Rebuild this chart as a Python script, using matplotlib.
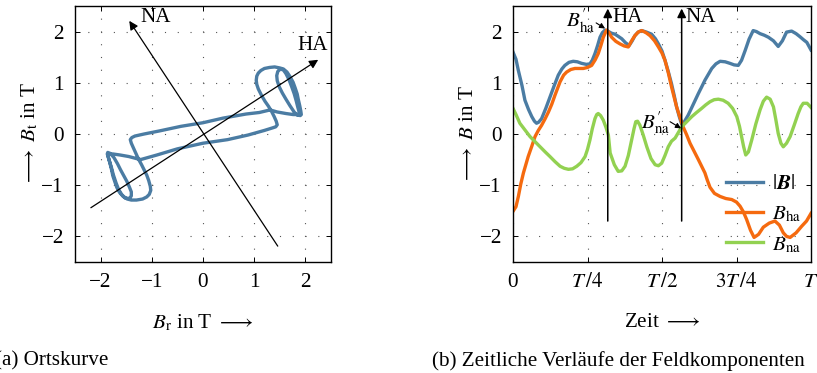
import numpy as np
import matplotlib
matplotlib.use("Agg")
from matplotlib import pyplot as plt
from matplotlib.lines import Line2D

plt.rcParams["font.family"] = ["Liberation Serif", "DejaVu Serif"]
plt.rcParams["mathtext.fontset"] = "stix"
plt.rcParams["font.size"] = 15.2

# --- (a) Ortskurve: B_r / B_t, in drawing order
br = [-1.22, -0.90, -0.50, 0.00, 0.48, 0.88, 1.20, 1.36, 1.42, 1.45, 1.43, 1.39, 1.34,
      1.28, 1.21, 1.14, 1.08, 1.05, 1.04, 1.05, 1.08, 1.13, 1.20, 1.30, 1.40, 1.50, 1.57,
      1.64, 1.70, 1.76, 1.80, 1.84, 1.86, 1.89, 1.91, 1.92, 1.90, 1.84,
      1.78, 1.70, 1.62, 1.55, 1.49, 1.45, 1.44, 1.46, 1.51, 1.57, 1.62, 1.68, 1.73, 1.78,
      1.82, 1.85, 1.88, 1.87,
      1.76, 1.62, 1.45, 1.31,
      1.10, 0.84, 0.39, 0.00, -0.43, -0.85, -1.15, -1.33, -1.39, -1.42, -1.40, -1.36, -1.31,
      -1.26, -1.20, -1.15, -1.10, -1.06, -1.03, -1.02, -1.05, -1.10, -1.18, -1.30, -1.40,
      -1.48, -1.56, -1.63, -1.68, -1.72, -1.76, -1.79, -1.82, -1.85, -1.87, -1.86, -1.81,
      -1.74, -1.67, -1.61, -1.55, -1.49, -1.44, -1.40, -1.40, -1.44, -1.52, -1.59, -1.65,
      -1.70, -1.75, -1.79, -1.83, -1.86, -1.85,
      -1.76, -1.62, -1.45, -1.30, -1.22]
bt = [-0.50, -0.41, -0.29, -0.18, -0.11, -0.02, 0.07, 0.12, 0.14, 0.18, 0.25, 0.34, 0.44,
      0.54, 0.64, 0.76, 0.88, 0.97, 1.05, 1.13, 1.19, 1.24, 1.28, 1.30, 1.31, 1.29, 1.27,
      1.21, 1.12, 1.01, 0.90, 0.78, 0.68, 0.55, 0.45, 0.38, 0.36, 0.37,
      0.43, 0.55, 0.68, 0.80, 0.92, 1.04, 1.14, 1.22, 1.27, 1.25, 1.18, 1.06, 0.93, 0.79,
      0.65, 0.53, 0.42, 0.38,
      0.38, 0.40, 0.43, 0.47,
      0.42, 0.39, 0.31, 0.22, 0.15, 0.06, 0.00, -0.04, -0.07, -0.11, -0.18, -0.27, -0.38,
      -0.49, -0.60, -0.70, -0.80, -0.91, -1.02, -1.10, -1.18, -1.23, -1.27, -1.29, -1.29,
      -1.27, -1.22, -1.14, -1.05, -0.94, -0.82, -0.68, -0.56, -0.45, -0.39, -0.36, -0.38,
      -0.46, -0.58, -0.70, -0.81, -0.92, -1.03, -1.13, -1.21, -1.26, -1.25, -1.18, -1.08,
      -0.95, -0.80, -0.65, -0.52, -0.42, -0.39,
      -0.39, -0.41, -0.44, -0.48, -0.50]

# --- (b) time traces (t in units of T)
t_abs = [0.000, 0.010, 0.018, 0.030, 0.040, 0.052, 0.063, 0.072, 0.079, 0.086, 0.096, 0.110,
         0.124, 0.138, 0.152, 0.164, 0.174, 0.188, 0.202, 0.216, 0.230, 0.246, 0.258, 0.266,
         0.275, 0.284, 0.292, 0.300, 0.309, 0.318, 0.330, 0.342, 0.355, 0.365, 0.378, 0.390,
         0.400, 0.409, 0.420, 0.432, 0.448, 0.465, 0.478, 0.488, 0.500, 0.510, 0.521, 0.532,
         0.541, 0.549, 0.558, 0.566, 0.576, 0.588, 0.605, 0.622, 0.634, 0.644, 0.656, 0.667,
         0.681, 0.695, 0.712, 0.728, 0.742, 0.756, 0.767, 0.779, 0.792, 0.806, 0.817, 0.829,
         0.843, 0.857, 0.874, 0.890, 0.904, 0.918, 0.935, 0.950, 0.963, 0.975, 0.986, 1.000]
b_abs = [1.60, 1.46, 1.24, 0.95, 0.66, 0.48, 0.34, 0.25, 0.21, 0.23, 0.30, 0.50,
         0.72, 0.94, 1.15, 1.27, 1.34, 1.40, 1.42, 1.41, 1.38, 1.36, 1.37, 1.44,
         1.57, 1.73, 1.89, 1.98, 2.03, 2.01, 1.97, 1.95, 1.90, 1.86, 1.78, 1.73,
         1.82, 1.92, 1.99, 2.02, 1.99, 1.95, 1.86, 1.76, 1.62, 1.44, 1.22, 0.98,
         0.75, 0.53, 0.34, 0.19, 0.25, 0.37, 0.58, 0.79, 0.93, 1.05, 1.17, 1.28,
         1.37, 1.42, 1.41, 1.38, 1.35, 1.34, 1.44, 1.63, 1.85, 2.02, 2.00, 1.96,
         1.93, 1.89, 1.82, 1.71, 1.82, 1.99, 2.01, 1.96, 1.90, 1.84, 1.79, 1.64]

t_ha = [0.000, 0.010, 0.018, 0.026, 0.035, 0.051, 0.063, 0.074, 0.085, 0.096, 0.108, 0.119,
        0.130, 0.141, 0.158, 0.170, 0.180, 0.194, 0.208, 0.222, 0.236, 0.250, 0.264, 0.276,
        0.286, 0.295, 0.303, 0.314, 0.322, 0.331, 0.345, 0.359, 0.373, 0.387, 0.398, 0.409,
        0.420, 0.432, 0.446, 0.460, 0.475, 0.488, 0.500, 0.510, 0.521, 0.532, 0.549, 0.560,
        0.571, 0.583, 0.594, 0.608, 0.622, 0.633, 0.644, 0.652, 0.661, 0.676, 0.695, 0.714,
        0.734, 0.750, 0.762, 0.773, 0.784, 0.797, 0.809, 0.824, 0.840, 0.860, 0.879, 0.894,
        0.907, 0.918, 0.930, 0.950, 0.969, 0.985, 1.000]
b_ha = [-1.51, -1.42, -1.22, -0.98, -0.76, -0.44, -0.24, -0.05, 0.07, 0.17, 0.30, 0.43,
        0.58, 0.76, 1.02, 1.15, 1.21, 1.26, 1.28, 1.28, 1.28, 1.30, 1.34, 1.45,
        1.57, 1.73, 1.89, 2.03, 1.98, 1.89, 1.81, 1.76, 1.72, 1.70, 1.82, 1.92,
        1.99, 2.02, 1.98, 1.92, 1.82, 1.70, 1.58, 1.44, 1.20, 0.92, 0.53, 0.33,
        0.14, -0.02, -0.18, -0.34, -0.50, -0.63, -0.76, -0.90, -1.04, -1.16, -1.22, -1.26,
        -1.28, -1.33, -1.41, -1.52, -1.67, -1.88, -2.02, -1.96, -1.82, -1.74, -1.70, -1.78,
        -1.93, -2.00, -2.02, -1.93, -1.80, -1.70, -1.55]

t_na = [0.000, 0.010, 0.023, 0.040, 0.057, 0.074, 0.091, 0.108, 0.124, 0.141, 0.158, 0.172,
        0.186, 0.200, 0.214, 0.228, 0.242, 0.250, 0.258, 0.266, 0.275, 0.281, 0.286, 0.294,
        0.303, 0.312, 0.320, 0.326, 0.340, 0.353, 0.365, 0.376, 0.387, 0.398, 0.406, 0.412,
        0.418, 0.426, 0.437, 0.449, 0.463, 0.477, 0.488, 0.499, 0.510, 0.521, 0.532, 0.544,
        0.555, 0.566, 0.583, 0.600, 0.616, 0.633, 0.647, 0.661, 0.675, 0.689, 0.705, 0.722,
        0.737, 0.751, 0.760, 0.767, 0.774, 0.781, 0.790, 0.801, 0.815, 0.829, 0.840, 0.851,
        0.863, 0.874, 0.882, 0.890, 0.899, 0.907, 0.918, 0.930, 0.944, 0.957, 0.966, 0.974,
        0.987, 1.000]
b_na = [0.50, 0.38, 0.21, 0.08, -0.05, -0.15, -0.25, -0.35, -0.44, -0.54, -0.63, -0.67,
        -0.69, -0.68, -0.63, -0.56, -0.44, -0.30, -0.12, 0.10, 0.30, 0.38, 0.40, 0.36,
        0.27, 0.13, -0.02, -0.37, -0.60, -0.73, -0.72, -0.63, -0.42, -0.12, 0.10, 0.24,
        0.25, 0.17, -0.02, -0.25, -0.48, -0.60, -0.62, -0.57, -0.42, -0.25, -0.14, -0.08,
        0.03, 0.14, 0.24, 0.34, 0.42, 0.50, 0.57, 0.63, 0.67, 0.68, 0.66, 0.60,
        0.50, 0.34, 0.15, -0.05, -0.25, -0.41, -0.35, -0.12, 0.20, 0.47, 0.64, 0.72,
        0.68, 0.53, 0.28, 0.01, -0.18, -0.25, -0.18, -0.05, 0.18, 0.40, 0.53, 0.60,
        0.60, 0.52]

x_ticks = [0, 0.25, 0.5, 0.75, 1]
x_ticklabels = ["0", r"$T\,/4$", r"$T\,/2$", r"$3T\,/4$", "$T$"]
b_ticks = [-2, -1, 0, 1, 2]

c_abs = "#4b7ca3"
c_ha = "#f56a0f"
c_na = "#92d151"
gridstyle = dict(color="#555555", linestyle=(0, (1, 10.5)), linewidth=0.8)


def style_axes(ax):
    ax.grid(True, **gridstyle)
    ax.tick_params(direction="in", top=True, right=True, length=3.5, width=0.7, pad=8)
    for s in ax.spines.values():
        s.set_linewidth(1.0)


W, H = 817, 373
fig = plt.figure(figsize=(W / 100, H / 100), dpi=100)
ax1 = fig.add_axes([75 / W, 111 / H, 256 / W, 256 / H])
ax2 = fig.add_axes([513 / W, 111 / H, 298 / W, 256 / H])

# (a)
ax1.plot(br, bt, color=c_abs, lw=2.4, solid_joinstyle="round", solid_capstyle="round")
arr = dict(arrowstyle="-|>", color="black", lw=0.9, mutation_scale=13, shrinkA=0, shrinkB=0)
ax1.annotate("", xy=(2.25, 1.45), xytext=(-2.19, -1.44), arrowprops=arr)
ax1.annotate("", xy=(-1.44, 2.21), xytext=(1.46, -2.19), arrowprops=arr)
ax1.text(-1.22, 2.27, "NA", ha="left", va="center")
ax1.text(2.44, 1.73, "HA", ha="right", va="center")
ax1.set_xlim(-2.5, 2.5)
ax1.set_ylim(-2.5, 2.5)
ax1.set_xticks(b_ticks)
ax1.set_yticks(b_ticks)
style_axes(ax1)
ax1.set_xlabel(r"$B_\mathrm{r}$ in T $\longrightarrow$", labelpad=15)
ax1.set_ylabel(r"$\longrightarrow$ $B_\mathrm{t}$ in T", labelpad=1)

# (b)
ax2.plot(t_abs, b_abs, color=c_abs, lw=2.4, solid_joinstyle="round")
ax2.plot(t_ha, b_ha, color=c_ha, lw=2.4, solid_joinstyle="round")
ax2.plot(t_na, b_na, color=c_na, lw=2.4, solid_joinstyle="round")
varr = dict(arrowstyle="-|>", color="black", lw=1.1, mutation_scale=13, shrinkA=0, shrinkB=0)
ax2.annotate("", xy=(0.318, 2.45), xytext=(0.318, -1.7), arrowprops=varr)
ax2.annotate("", xy=(0.566, 2.45), xytext=(0.566, -1.7), arrowprops=varr)
ax2.text(0.332, 2.27, "HA", ha="left", va="center")
ax2.text(0.58, 2.27, "NA", ha="left", va="center")
sarr = dict(arrowstyle="-|>", color="black", lw=0.8, mutation_scale=8, shrinkA=0, shrinkB=0)
ax2.annotate("", xy=(0.309, 2.06), xytext=(0.279, 2.17), arrowprops=sarr)
ax2.text(0.225, 2.2, r"$B_{\mathrm{ha}}^{\prime}$", ha="center", va="center")
ax2.annotate("", xy=(0.564, 0.11), xytext=(0.527, 0.24), arrowprops=sarr)
ax2.text(0.478, 0.22, r"$B_{\mathrm{na}}^{\prime}$", ha="center", va="center")
ax2.set_xlim(0, 1)
ax2.set_ylim(-2.5, 2.5)
ax2.set_xticks(x_ticks)
ax2.set_xticklabels(x_ticklabels)
ax2.set_yticks(b_ticks)
style_axes(ax2)
ax2.set_xlabel(r"Zeit $\longrightarrow$", labelpad=15)
ax2.set_ylabel(r"$\longrightarrow$ $B$ in T", labelpad=1)
handles = [Line2D([], [], color=c, lw=2.4) for c in (c_abs, c_ha, c_na)]
ax2.legend(handles, [r"$|\boldsymbol{B}|$", r"$B_\mathrm{ha}$", r"$B_\mathrm{na}$"],
           loc="center left", bbox_to_anchor=(0.678, 0.185), frameon=False,
           borderpad=0, handlelength=1.76, handletextpad=0.43, labelspacing=0.5)

fig.text(-5 / W, 1 - 361 / H, "(a) Ortskurve", ha="left", va="center")
fig.text(432 / W, 1 - 361 / H, "(b) Zeitliche Verläufe der Feldkomponenten", ha="left", va="center")

fig.savefig("out.png", dpi=100)
